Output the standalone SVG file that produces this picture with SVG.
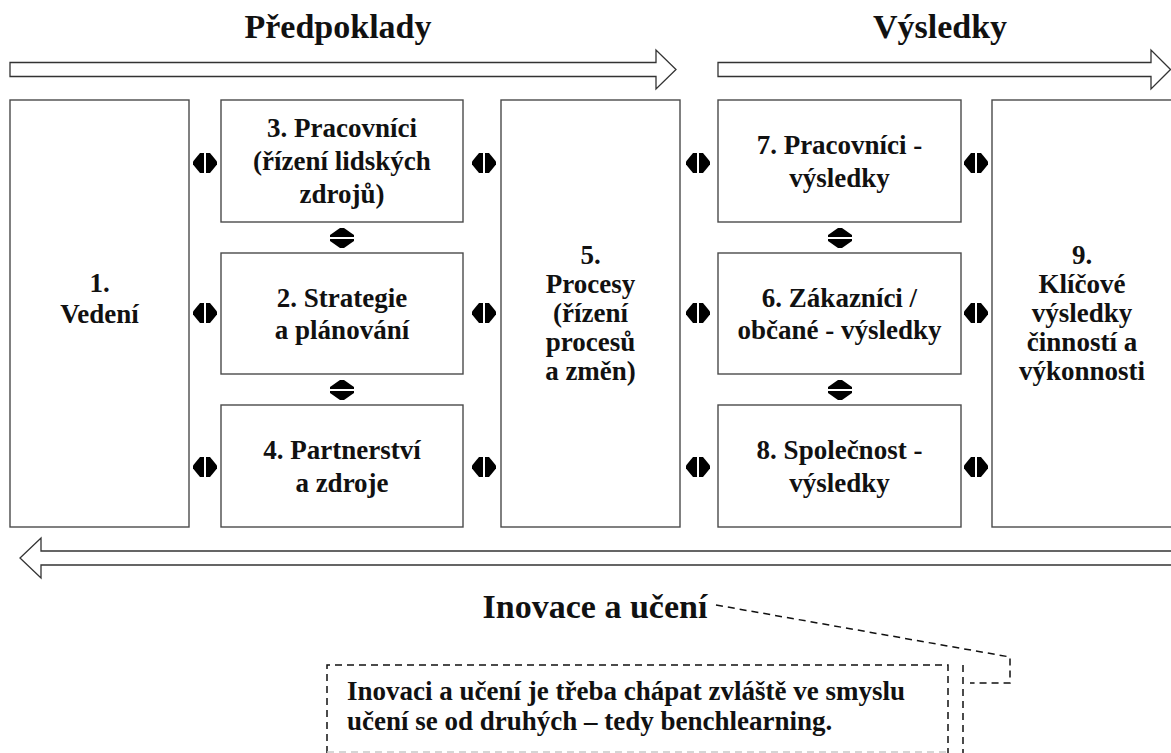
<svg xmlns="http://www.w3.org/2000/svg" width="1171" height="753" viewBox="0 0 1171 753">
  <style>
    .box { fill: #fff; stroke: #4a4a4a; stroke-width: 1.4; }
    .band { fill: #fff; stroke: #333; stroke-width: 1.3; stroke-linejoin: miter; }
    .lbl { font-family: "Liberation Serif", "Times New Roman", serif; font-weight: bold; font-size: 27px; fill: #111; text-anchor: middle; }
    .title { font-family: "Liberation Serif", "Times New Roman", serif; font-weight: bold; font-size: 34px; fill: #111; text-anchor: middle; }
    .note { font-family: "Liberation Serif", "Times New Roman", serif; font-weight: bold; font-size: 27px; fill: #111; }
    .dash { fill: none; stroke: #111; stroke-width: 1.5; stroke-dasharray: 7 5; }
    .conn { fill: #000; }
  </style>
  <defs>
    <!-- left/right double arrow split by a thin gap -->
    <g id="hArr" class="conn">
      <polygon points="-12,-1.5 -12,1.5 -5,10 -1,10 -1,-10 -5,-10"/>
      <polygon points="12,-1.5 12,1.5 5,10 1,10 1,-10 5,-10"/>
    </g>
    <!-- up/down double arrow split by a thin gap -->
    <g id="vArr" class="conn">
      <polygon points="-2,-10 2,-10 12,-3 12,-1 -12,-1 -12,-3"/>
      <polygon points="-2,10 2,10 12,3 12,1 -12,1 -12,3"/>
    </g>
  </defs>

  <!-- headings -->
  <text class="title" x="338" y="38">Předpoklady</text>
  <text class="title" x="940" y="38">Výsledky</text>

  <!-- block arrows -->
  <g id="flow-bands">
    <polygon class="band" points="10,62.5 656,62.5 656,50 676,69.5 656,89 656,76.5 10,76.5"/>
    <polygon class="band" points="718,62.5 1151,62.5 1151,50 1170.5,69.5 1151,89 1151,76.5 718,76.5"/>
    <polygon class="band" points="1172,551 41,551 41,538 20,558 41,578 41,565 1172,565"/>
  </g>

  <!-- criteria -->
  <g id="n1">
    <rect class="box" x="10" y="100" width="179" height="427"/>
    <text class="lbl" x="99.5" y="292">1.</text>
    <text class="lbl" x="99.5" y="323">Vedení</text>
  </g>
  <g id="n3">
    <rect class="box" x="221" y="100" width="242" height="122"/>
    <text class="lbl" x="342" y="137">3. Pracovníci</text>
    <text class="lbl" x="342" y="170">(řízení lidských</text>
    <text class="lbl" x="342" y="203">zdrojů)</text>
  </g>
  <g id="n2">
    <rect class="box" x="221" y="253" width="242" height="121"/>
    <text class="lbl" x="342" y="307">2. Strategie</text>
    <text class="lbl" x="342" y="339">a plánování</text>
  </g>
  <g id="n4">
    <rect class="box" x="221" y="405" width="242" height="122"/>
    <text class="lbl" x="342" y="459">4. Partnerství</text>
    <text class="lbl" x="342" y="492">a zdroje</text>
  </g>
  <g id="n5">
    <rect class="box" x="501" y="100" width="179" height="427"/>
    <text class="lbl" x="590.5" y="264">5.</text>
    <text class="lbl" x="590.5" y="293">Procesy</text>
    <text class="lbl" x="590.5" y="322">(řízení</text>
    <text class="lbl" x="590.5" y="351">procesů</text>
    <text class="lbl" x="590.5" y="380">a změn)</text>
  </g>
  <g id="n7">
    <rect class="box" x="718" y="100" width="243" height="122"/>
    <text class="lbl" x="839.5" y="154">7. Pracovníci -</text>
    <text class="lbl" x="839.5" y="187">výsledky</text>
  </g>
  <g id="n6">
    <rect class="box" x="718" y="253" width="243" height="121"/>
    <text class="lbl" x="839.5" y="307">6. Zákazníci /</text>
    <text class="lbl" x="839.5" y="339">občané - výsledky</text>
  </g>
  <g id="n8">
    <rect class="box" x="718" y="405" width="243" height="122"/>
    <text class="lbl" x="839.5" y="459">8. Společnost -</text>
    <text class="lbl" x="839.5" y="492">výsledky</text>
  </g>
  <g id="n9">
    <rect class="box" x="992" y="100" width="181" height="427"/>
    <text class="lbl" x="1082" y="264">9.</text>
    <text class="lbl" x="1082" y="293">Klíčové</text>
    <text class="lbl" x="1082" y="322">výsledky</text>
    <text class="lbl" x="1082" y="351">činností a</text>
    <text class="lbl" x="1082" y="380">výkonnosti</text>
  </g>

  <!-- links between criteria -->
  <g id="connectors">
    <use href="#hArr" x="205" y="163"/>
    <use href="#hArr" x="205" y="313"/>
    <use href="#hArr" x="205" y="467"/>
    <use href="#hArr" x="484" y="163"/>
    <use href="#hArr" x="484" y="313"/>
    <use href="#hArr" x="484" y="467"/>
    <use href="#hArr" x="698" y="163"/>
    <use href="#hArr" x="698" y="313"/>
    <use href="#hArr" x="698" y="467"/>
    <use href="#hArr" x="976" y="163"/>
    <use href="#hArr" x="976" y="313"/>
    <use href="#hArr" x="976" y="467"/>
    <use href="#vArr" x="342" y="238"/>
    <use href="#vArr" x="342" y="390"/>
    <use href="#vArr" x="840" y="238"/>
    <use href="#vArr" x="840" y="390"/>
  </g>

  <!-- learning loop label and its callout -->
  <text class="title" x="595" y="618">Inovace a učení</text>
  <g id="callout">
    <polyline class="dash" points="716,605 1010,657 1010,683 970,683"/>
    <line class="dash" x1="963" y1="665" x2="963" y2="753"/>
    <polyline class="dash" points="327,753 327,665 948,665 948,753"/>
    <line class="dash" x1="327" y1="752" x2="948" y2="752" style="stroke:#c8c8c8"/>
    <text class="note" x="347" y="700">Inovaci a učení je třeba chápat zvláště ve smyslu</text>
    <text class="note" x="347" y="730">učení se od druhých – tedy benchlearning.</text>
  </g>
</svg>
